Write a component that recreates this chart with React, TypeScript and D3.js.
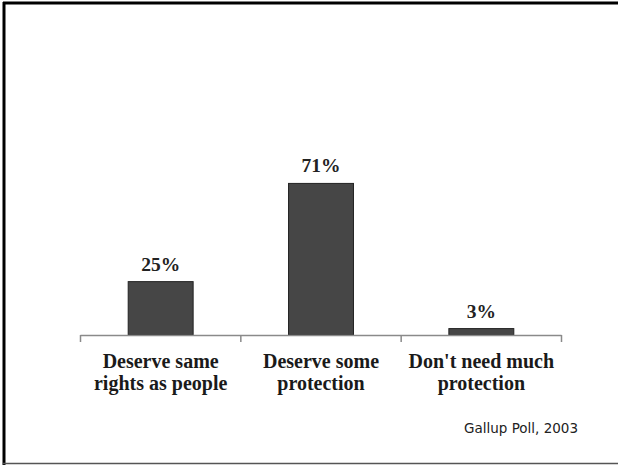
import React from "react";
import * as d3 from "d3";

const categories: string[][] = [
  ["Deserve same", "rights as people"],
  ["Deserve some", "protection"],
  ["Don't need much", "protection"],
];
const values: number[] = [25, 71, 3];
const valueLabels: string[] = ["25%", "71%", "3%"];
const source = "Gallup Poll, 2003";

const W = 618;
const H = 465;

export default function App() {
  const keys = categories.map((_, i) => String(i));
  const x = d3
    .scaleBand<string>()
    .domain(keys)
    .range([80.5, 561.5])
    .paddingInner(0.595)
    .paddingOuter(0.2975);
  const y = d3.scaleLinear().domain([0, 100]).range([335, 121.5]);
  const step = x.step();
  const x0 = 80.5;
  const ticks = d3.range(keys.length + 1).map((i) => x0 + i * step);

  return (
    <svg
      width={W}
      height={H}
      style={{ position: "absolute", left: 0, top: 0, background: "#fff" }}
    >
      <rect x={0} y={0} width={W} height={H} fill="#fff" />
      {/* frame */}
      <line x1={3} y1={3} x2={W} y2={3} stroke="#000" strokeWidth={3} />
      <line x1={4} y1={2} x2={4} y2={H} stroke="#000" strokeWidth={3} />
      <line x1={3} y1={463.5} x2={W} y2={463.5} stroke="#555" strokeWidth={1.5} />

      {/* bars */}
      {values.map((v, i) => (
        <rect
          key={i}
          x={x(String(i))!}
          y={y(v)}
          width={x.bandwidth()}
          height={y(0) - y(v)}
          fill="#464646"
          stroke="#222"
          strokeWidth={1}
        />
      ))}

      {/* axis */}
      <line x1={x0} y1={335.5} x2={x0 + 3 * step} y2={335.5} stroke="#8a8a8a" strokeWidth={1.5} />
      {ticks.map((t, i) => (
        <line key={i} x1={t} y1={335} x2={t} y2={342} stroke="#8a8a8a" strokeWidth={1.5} />
      ))}

      {/* value labels */}
      {values.map((v, i) => (
        <text
          key={i}
          x={x(String(i))! + x.bandwidth() / 2}
          y={y(v) - 11}
          textAnchor="middle"
          fontFamily="'Liberation Serif', 'Times New Roman', serif"
          fontWeight="bold"
          fontSize={19.5}
          fill="#222"
        >
          {valueLabels[i]}
        </text>
      ))}

      {/* category labels */}
      {categories.map((lines, i) => (
        <text
          key={i}
          textAnchor="middle"
          fontFamily="'Liberation Serif', 'Times New Roman', serif"
          fontWeight="bold"
          fontSize={20}
          fill="#1a1a1a"
        >
          {lines.map((l, j) => (
            <tspan key={j} x={x(String(i))! + x.bandwidth() / 2} y={368 + j * 22}>
              {l}
            </tspan>
          ))}
        </text>
      ))}

      <text
        x={578}
        y={433}
        textAnchor="end"
        fontFamily="'DejaVu Sans', Verdana, sans-serif"
        fontSize={13.5}
        fill="#222"
      >
        {source}
      </text>
    </svg>
  );
}
